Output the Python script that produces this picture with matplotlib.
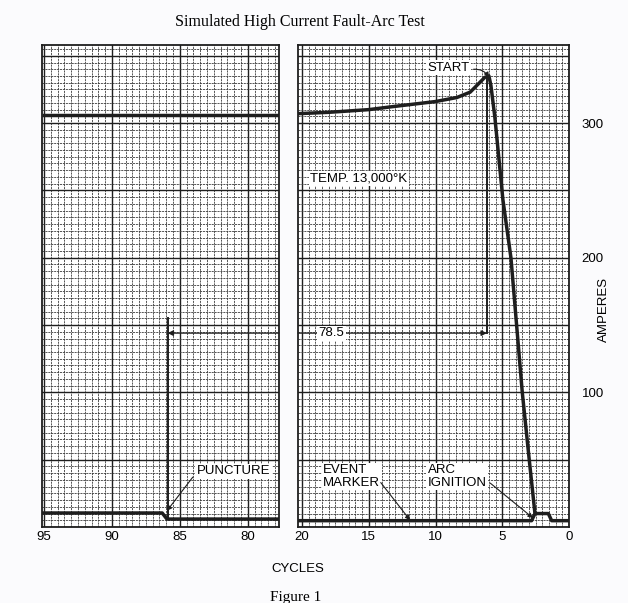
import matplotlib.pyplot as plt
from matplotlib.ticker import MultipleLocator, FuncFormatter

# current trace, left part of the chart (cycles before start)
left_cycles = [95.15, 77.7]
left_amps = [306, 306]

# event marker trace, left part
left_marker_cycles = [95.15, 86.3, 85.95, 77.7]
left_marker_amps = [10.4, 10.4, 5.9, 5.9]

# current trace, right part
right_cycles = [20.3, 18.0, 15.0, 13.4, 10.0, 8.4, 7.4, 6.7, 6.3, 6.0, 5.85, 5.55, 4.95, 4.35, 3.5, 3.0, 2.55]
right_amps = [307, 308, 310, 312, 316, 319, 323, 330, 334, 335, 328, 304, 243, 200, 100, 52, 10]

# event marker trace, right part
right_marker_cycles = [20.3, 2.8, 2.55, 1.55, 1.3, 0.0]
right_marker_amps = [4.7, 4.7, 10.0, 10.0, 4.7, 4.7]

left_ticks = [95, 90, 85, 80]
right_ticks = [20, 15, 10, 5, 0]
amp_ticks = [100, 200, 300]

span_label = "78.5"
puncture_x = 85.9
start_x = 6.15
span_y = 144

fig = plt.figure(figsize=(6.28, 6.03), dpi=100)
fig.patch.set_facecolor("#fbfbfd")

ax1 = fig.add_axes([42 / 628, 1 - 527 / 603, 237 / 628, 482 / 603])
ax2 = fig.add_axes([298 / 628, 1 - 527 / 603, 271 / 628, 482 / 603])

sans = "Liberation Sans"
serif = "Liberation Serif"

for ax, xlim, ticks in [(ax1, (95.15, 77.7), left_ticks), (ax2, (20.3, 0), right_ticks)]:
    ax.set_xlim(*xlim)
    ax.set_ylim(0, 358)
    ax.xaxis.set_major_locator(MultipleLocator(5))
    ax.xaxis.set_minor_locator(MultipleLocator(0.5))
    ax.yaxis.set_major_locator(MultipleLocator(50))
    ax.yaxis.set_minor_locator(MultipleLocator(5))
    ax.grid(which="major", color="#1e1e1e", lw=1.0)
    ax.grid(which="minor", color="#3a3a3a", lw=0.6, linestyle=(0, (2.5, 1)))
    ax.set_axisbelow(True)
    ax.tick_params(which="both", length=0, labelsize=9.5, pad=3)
    for s in ax.spines.values():
        s.set_color("#1e1e1e")
        s.set_linewidth(1.3)
    ax.xaxis.set_major_formatter(
        FuncFormatter(lambda v, p, t=ticks: f"{v:.0f}" if round(v) in t else ""))

ax1.yaxis.set_major_formatter(FuncFormatter(lambda v, p: ""))
ax2.yaxis.tick_right()
ax2.yaxis.set_major_formatter(FuncFormatter(lambda v, p: f"{v:.0f}" if round(v) in amp_ticks else ""))
ax2.tick_params(axis="y", pad=9)
for ax in (ax1, ax2):
    for lab in ax.get_xticklabels() + ax.get_yticklabels():
        lab.set_fontfamily(sans)

trace = dict(color="#1e1e1e", lw=2.5, solid_capstyle="butt", zorder=4)
ax1.plot(left_cycles, left_amps, **trace)
ax1.plot(left_marker_cycles, left_marker_amps, **trace)
ax2.plot(right_cycles, right_amps, **trace)
ax2.plot(right_marker_cycles, right_marker_amps, **trace)

# dimension lines for the 78.5 cycle span
ax1.plot([puncture_x, puncture_x], [6, 155], color="#1e1e1e", lw=1.4, zorder=3)
ax1.annotate("", xy=(puncture_x, span_y), xytext=(77.7, span_y),
             arrowprops=dict(arrowstyle="-|>", color="#1e1e1e", lw=0.9, mutation_scale=8,
                             shrinkA=0, shrinkB=0), zorder=3)
ax2.plot([start_x, start_x], [span_y, 336], color="#1e1e1e", lw=1.4, zorder=3)
ax2.annotate("", xy=(start_x, span_y), xytext=(20.3, span_y),
             arrowprops=dict(arrowstyle="-|>", color="#1e1e1e", lw=0.9, mutation_scale=8,
                             shrinkA=0, shrinkB=0), zorder=3)
ax2.text(17.8, span_y, span_label, fontsize=9.5, family=sans, ha="center", va="center",
         bbox=dict(facecolor="white", edgecolor="none", pad=1), zorder=5)

arrow = dict(arrowstyle="-|>", color="#1e1e1e", lw=0.8, mutation_scale=7, shrinkA=0, shrinkB=0)
label_box = dict(facecolor="white", edgecolor="none", pad=1)

ax2.text(10.6, 341, "START", fontsize=9.5, family=sans, ha="left", va="center", bbox=label_box, zorder=5)
ax2.annotate("", xy=(6.0, 334), xytext=(7.15, 340),
             arrowprops=dict(arrow, connectionstyle="arc3,rad=-0.3"), zorder=5)

ax2.text(19.4, 259, "TEMP. 13,000°K", fontsize=9.5, family=sans, ha="left", va="center",
         bbox=label_box, zorder=5)

ax1.text(83.75, 41.5, "PUNCTURE", fontsize=9.5, family=sans, ha="left", va="center",
         bbox=label_box, zorder=5)
ax1.annotate("", xy=(85.95, 12), xytext=(84.05, 37), arrowprops=arrow, zorder=5)

ax2.text(18.4, 37.5, "EVENT\nMARKER", fontsize=9.5, family=sans, ha="left", va="center",
         linespacing=1.05, bbox=label_box, zorder=5)
ax2.annotate("", xy=(11.9, 5), xytext=(14.1, 33), arrowprops=arrow, zorder=5)

ax2.text(10.6, 37.5, "ARC\nIGNITION", fontsize=9.5, family=sans, ha="left", va="center",
         linespacing=1.05, bbox=label_box, zorder=5)
ax2.annotate("", xy=(2.7, 6.7), xytext=(5.9, 32.6), arrowprops=arrow, zorder=5)

fig.text(300 / 628, 1 - 22 / 603, "Simulated High Current Fault-Arc Test", family=serif,
         fontsize=11.5, ha="center", va="center")
fig.text(298 / 628, 1 - 569 / 603, "CYCLES", family=sans, fontsize=9.5, ha="center", va="center")
fig.text(296 / 628, 1 - 598 / 603, "Figure 1", family=serif, fontsize=11, ha="center", va="center")
fig.text(604 / 628, 1 - 309 / 603, "AMPERES", family=sans, fontsize=9.5, rotation=90,
         ha="center", va="center")

fig.savefig("out.png", dpi=100, facecolor=fig.get_facecolor())
